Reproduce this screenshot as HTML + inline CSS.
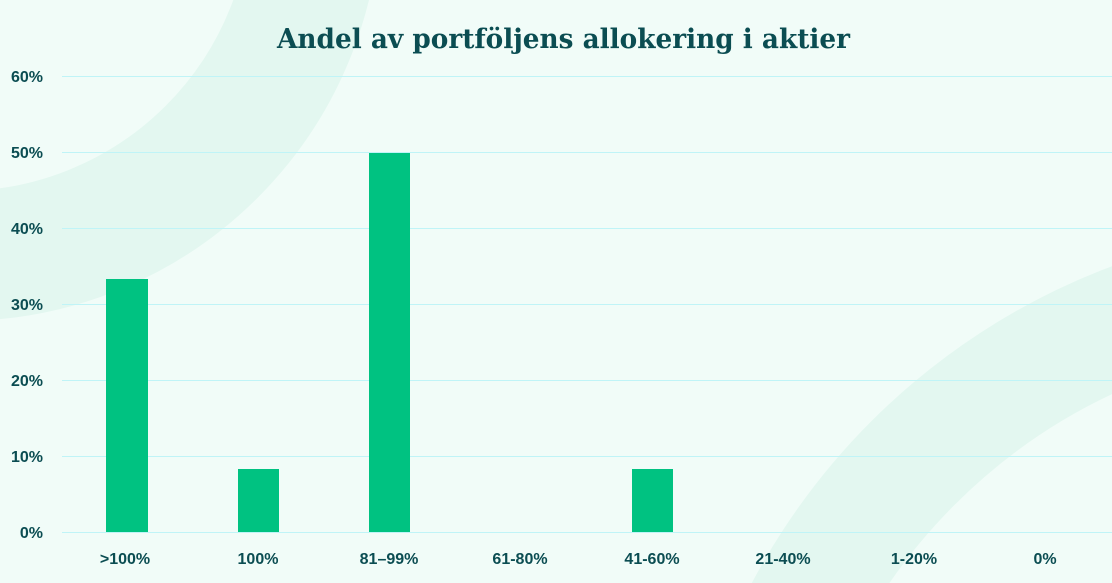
<!DOCTYPE html>
<html><head><meta charset="utf-8"><style>
html,body{margin:0;padding:0;background:#f1fcf8;overflow:hidden;width:1112px;height:583px;}
</style></head><body>
<svg width="1112" height="583" viewBox="0 0 1112 583" xmlns="http://www.w3.org/2000/svg" style="display:block">
<rect width="1112" height="583" fill="#f1fcf8"/>
<circle cx="-40" cy="-100" r="356" fill="none" stroke="#e3f7f0" stroke-width="130"/>
<circle cx="1350" cy="900" r="618" fill="none" stroke="#e3f7f0" stroke-width="118"/>
<g stroke="#c0f4f7" stroke-width="1">
<line x1="62" x2="1112" y1="76.5" y2="76.5"/>
<line x1="62" x2="1112" y1="152.5" y2="152.5"/>
<line x1="62" x2="1112" y1="228.5" y2="228.5"/>
<line x1="62" x2="1112" y1="304.5" y2="304.5"/>
<line x1="62" x2="1112" y1="380.5" y2="380.5"/>
<line x1="62" x2="1112" y1="456.5" y2="456.5"/>
<line x1="62" x2="1112" y1="532.5" y2="532.5"/>
</g>
<g fill="#00c281">
<rect x="106" y="279" width="42" height="253"/>
<rect x="238" y="469" width="41" height="63"/>
<rect x="369" y="153" width="41" height="379"/>
<rect x="632" y="469" width="41" height="63"/>
</g>
<text x="277" y="48" textLength="573" lengthAdjust="spacingAndGlyphs" font-family="'DejaVu Serif','Liberation Serif',serif" font-weight="bold" font-size="27" fill="#0b4d52">Andel av portföljens allokering i aktier</text>
<g font-family="'Liberation Sans',sans-serif" font-weight="bold" font-size="16" fill="#0b4d52" text-anchor="end">
<text x="43" y="82">60%</text>
<text x="43" y="158">50%</text>
<text x="43" y="234">40%</text>
<text x="43" y="310">30%</text>
<text x="43" y="386">20%</text>
<text x="43" y="462">10%</text>
<text x="43" y="538">0%</text>
</g>
<g font-family="'Liberation Sans',sans-serif" font-weight="bold" font-size="16" fill="#0b4d52" text-anchor="middle">
<text x="125" y="564">&gt;100%</text>
<text x="258" y="564">100%</text>
<text x="389" y="564">81–99%</text>
<text x="520" y="564">61-80%</text>
<text x="652" y="564">41-60%</text>
<text x="783" y="564">21-40%</text>
<text x="914" y="564">1-20%</text>
<text x="1045" y="564">0%</text>
</g>
</svg>
</body></html>
